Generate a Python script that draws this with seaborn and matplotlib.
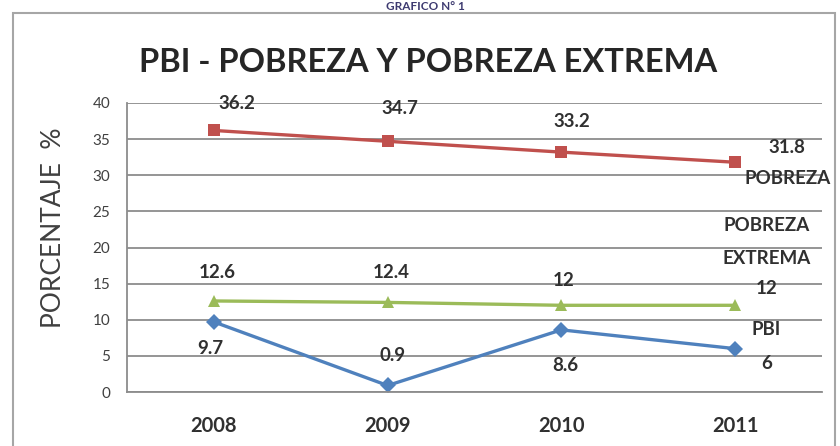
import matplotlib
matplotlib.use("Agg")
import matplotlib.pyplot as plt
import seaborn as sns
import pandas as pd
from matplotlib.patches import Rectangle

years = ["2008", "2009", "2010", "2011"]
pobreza = [36.2, 34.7, 33.2, 31.8]
extrema = [12.6, 12.4, 12.0, 12.0]
pbi = [9.7, 0.9, 8.6, 6.0]
series_names = ["POBREZA", "POBREZA EXTREMA", "PBI"]
yticks = [0, 5, 10, 15, 20, 25, 30, 35, 40]

sns.set_theme(style="white")
plt.rcParams["font.family"] = ["Lato", "DejaVu Sans"]

df = pd.DataFrame({
    "year": years * 3,
    "value": pobreza + extrema + pbi,
    "serie": [series_names[0]] * 4 + [series_names[1]] * 4 + [series_names[2]] * 4,
})

fig = plt.figure(figsize=(8.4, 4.46), dpi=100)
ax = fig.add_axes([127 / 840, 1 - 392 / 446, (822 - 127) / 840, (392 - 103) / 446])

palette = {series_names[0]: "#C0504D", series_names[1]: "#9BBB59", series_names[2]: "#4F81BD"}
markers = {series_names[0]: "s", series_names[1]: "^", series_names[2]: "D"}
sns.lineplot(data=df, x="year", y="value", hue="serie", style="serie",
             palette=palette, markers=markers, dashes=False, linewidth=2.4,
             markersize=8, markeredgewidth=0, legend=False, ax=ax, sort=False)

ax.set_xlim(-0.5, 3.5)
ax.set_ylim(0, 40)
ax.set_yticks(yticks)
ax.set_yticklabels([str(t) for t in yticks], fontsize=11, color="#404040")
ax.tick_params(axis="x", labelsize=14.5, colors="#303030", length=0, pad=17)
ax.tick_params(axis="y", length=0, pad=12)
for lab in ax.get_xticklabels():
    lab.set_fontweight("bold")
ax.grid(axis="y", color="#8c8c8c", linewidth=1.3)
ax.set_axisbelow(True)
for s in ["top", "right"]:
    ax.spines[s].set_visible(False)
ax.spines["left"].set_color("#8c8c8c")
ax.spines["bottom"].set_color("#8c8c8c")
ax.spines["left"].set_linewidth(1.3)
ax.spines["bottom"].set_linewidth(1.3)
ax.set_xlabel("")
ax.set_ylabel("")

lab_kw = dict(fontsize=13.5, fontweight="bold", color="#303030", ha="center", va="center")
# Pobreza labels
ax.text(0.13, 39.9, "36.2", **lab_kw)
ax.text(1.07, 39.3, "34.7", **lab_kw)
ax.text(2.06, 37.4, "33.2", **lab_kw)
ax.text(3.30, 33.9, "31.8", **lab_kw)
ax.text(3.30, 29.6, "POBREZA", **lab_kw)
# Extrema labels
ax.text(0.02, 16.5, "12.6", **lab_kw)
ax.text(1.02, 16.5, "12.4", **lab_kw)
ax.text(2.01, 15.4, "12", **lab_kw)
ax.text(3.18, 23.1, "POBREZA", **lab_kw)
ax.text(3.18, 18.5, "EXTREMA", **lab_kw)
ax.text(3.18, 14.3, "12", **lab_kw)
# PBI labels
ax.text(-0.02, 6.0, "9.7", **lab_kw)
ax.text(1.03, 5.1, "0.9", **lab_kw)
ax.text(2.02, 3.7, "8.6", **lab_kw)
ax.text(3.18, 8.6, "PBI", **lab_kw)
ax.text(3.18, 4.0, "6", **lab_kw)

fig.text(54 / 840, 1 - 227.5 / 446, "PORCENTAJE  %", rotation=90,
         fontsize=19, color="#404040", ha="center", va="center")
fig.text(428 / 840, 1 - 62 / 446, "PBI - POBREZA Y POBREZA EXTREMA",
         fontsize=23.5, fontweight="bold", color="#262626", ha="center", va="center")
fig.text(425 / 840, 1 - 6 / 446, "GRAFICO N° 1", fontsize=8.5, fontweight="bold",
         color="#3d3a70", ha="center", va="center")

fig.patches.append(Rectangle((13 / 840, -0.05), (835 - 13) / 840, 1.05 - 13 / 446,
                             transform=fig.transFigure, fill=False,
                             edgecolor="#a6a6a6", linewidth=1.5))

fig.savefig("out.png", dpi=100)
